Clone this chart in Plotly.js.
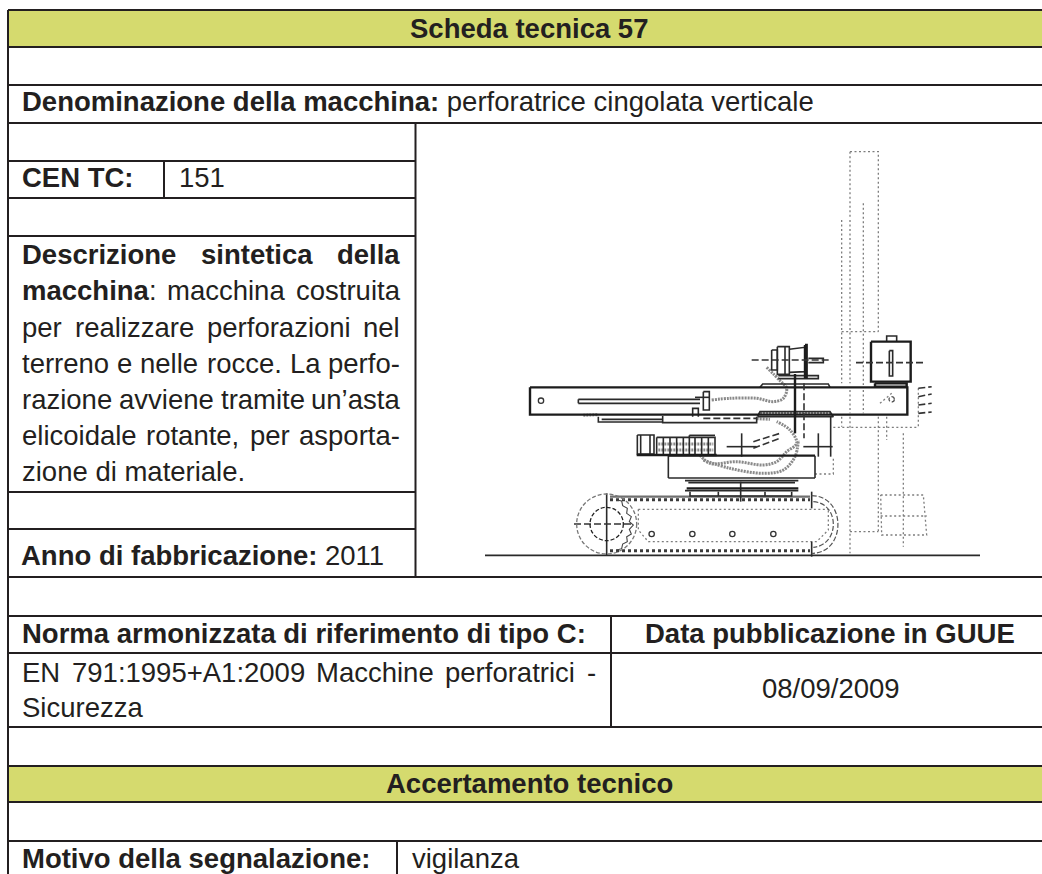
<!DOCTYPE html>
<html><head><meta charset="utf-8">
<script src="https://cdn.plot.ly/plotly-3.0.1.min.js"></script>
<style>html,body{margin:0;padding:0;background:#fff}#c{width:1042px;height:874px}</style>
</head><body><div id="c"></div>
<script>
// ---------- table content ----------
const INK = '#231f20', BAND = '#d5da6e', FONT = '"Liberation Sans", Arial, sans-serif';
const SIZE = 27.5;
const fullRules = [10, 47, 85, 123, 577, 616, 653, 727, 766, 802, 841];
const leftRules = [161, 198, 236, 492, 529];
const bands = [[10, 47], [766, 802]];
const vRules = [[8, 10, 874], [415.5, 123, 577], [164, 161, 198], [611, 616, 727], [397, 841, 874]];
const plainTexts = [
  ['<b>Scheda tecnica 57</b>', 529, 28, 'center'],
  ['<b>Denominazione della macchina:</b> perforatrice cingolata verticale', 22, 101.5, 'left'],
  ['<b>CEN TC:</b>', 22, 177.5, 'left'],
  ['151', 179, 177.5, 'left'],
  ['zione di materiale.', 22, 471.5, 'left'],
  ['<b>Anno di fabbricazione:</b> 2011', 21, 555, 'left'],
  ['<b>Norma armonizzata di riferimento di tipo C:</b>', 22, 633, 'left'],
  ['<b>Data pubblicazione in GUUE</b>', 830, 633, 'center'],
  ['Sicurezza', 22, 707, 'left'],
  ['08/09/2009', 831, 688, 'center'],
  ['<b>Accertamento tecnico</b>', 529, 783, 'center'],
  ['<b>Motivo della segnalazione:</b>', 22, 858, 'left'],
  ['vigilanza', 412, 858, 'left']
];
const justifiedLines = [
  [['Descrizione', 'sintetica', 'della'], 3, 22, 400, 254],
  [['macchina', ':', 'macchina', 'costruita'], 1, 22, 400, 290.5],
  [['per', 'realizzare', 'perforazioni', 'nel'], 0, 22, 400, 327],
  [['terreno', 'e', 'nelle', 'rocce.', 'La', 'perfo-'], 0, 22, 400, 363],
  [['razione', 'avviene', 'tramite', 'un\u2019asta'], 0, 22, 400, 399],
  [['elicoidale', 'rotante,', 'per', 'asporta-'], 0, 22, 400, 435],
  [['EN', '791:1995+A1:2009', 'Macchine', 'perforatrici', '-'], 0, 22, 596, 672]
];

// ---------- drawing polylines (units: 1/3 px inside the picture area) ----------
const blackHeavy = [
  [[180,742],[1312,742],[1312,824],[180,824],[180,742]],
  [[1215,730],[1310,730],[1310,740],[1215,740],[1215,730]],
  [[595,947],[1035,947]],
  [[500,945],[740,945]],
  [[650,1045],[985,1045]],
  [[1203,605],[1322,605],[1322,725],[1203,725],[1203,605]],
  [[1005,615],[1010,615],[1010,712],[1005,712],[1005,615]],
  [[975,702],[975,880]]
];
const blackMed = [
  [[45,1246],[1530,1246]],
  [[595,1014],[1035,1014]],
  [[410,1060],[410,1248]], [[1025,1055],[1025,1105]], [[1025,1205],[1025,1250]],
  [[870,742],[878,732],[1075,732],[1080,742]],
  [[862,830],[870,815],[1080,815],[1090,830],[862,830]],
  [[325,778],[690,778]], [[325,790],[690,790]], [[325,778],[325,790]],
  [[700,755],[718,755],[718,810],[700,810],[700,755]],
  [[675,772],[718,772]],
  [[668,830],[668,805],[685,805],[685,830]],
  [[385,830],[385,846],[578,846]], [[395,838],[578,838]], [[578,828],[578,848],[860,848],[860,830]],
  [[905,630],[922,630],[922,690],[905,690],[905,630]],
  [[922,620],[958,620],[958,703],[922,703],[922,620]], [[945,620],[945,703]],
  [[958,628],[1005,622],[1005,695],[958,697]],
  [[925,707],[1045,707],[1045,716],[925,716]],
  [[1015,655],[1060,655],[1060,668],[1015,668]],
  [[1250,605],[1250,588],[1280,588],[1280,605]],
  [[1258,632],[1268,632],[1268,708],[1258,708],[1258,632]],
  [[502,885],[552,885],[552,942],[502,942],[502,885]], [[512,885],[512,942]], [[540,885],[540,942]],
  [[560,892],[735,892],[735,942]], [[560,892],[560,942]], [[658,886],[735,886]],
  [[580,892],[580,942]], [[600,892],[600,942]], [[620,892],[620,942]], [[640,892],[640,942]],
  [[658,886],[658,942]], [[675,892],[675,942]], [[695,892],[695,942]], [[715,892],[715,942]],
  [[595,947],[595,1014]], [[1035,947],[1035,1014]],
  [[645,1022],[985,1022]], [[655,1028],[975,1028]], [[645,1052],[985,1052]],
  [[660,1055],[660,1068],[965,1068],[965,1055]], [[745,1055],[745,1068]], [[885,1055],[885,1068]],
  [[812,1025],[812,1085]],
  [[815,880],[815,950]], [[770,920],[860,920]], [[1045,880],[1045,950]], [[1000,920],[1088,920]],
  [[1082,830],[1082,950]]
];
const blackDashed = [
  [[845,660],[1080,660]], [[1002,730],[1002,895]], [[312,1152],[490,1152]],
  [[700,835],[860,835]], [[850,925],[930,895]], [[850,905],[930,880]],
  [[1158,668],[1368,668]], [[1345,745],[1385,740]], [[1345,770],[1385,762]],
  [[1345,795],[1385,790]], [[1345,820],[1385,816]]
];
const grayDots = [
  [[1140,35],[1225,35],[1225,575]], [[1140,35],[1140,230]], [[1115,240],[1115,730]], [[1140,240],[1140,730]],
  [[1115,575],[1225,575]], [[1180,190],[1180,735]], [[1225,830],[1225,1175]],
  [[1140,830],[1140,1240]], [[1140,1175],[1225,1175]], [[1115,830],[1115,860]],
  [[1090,862],[1345,862]], [[1300,880],[1300,1220]], [[1250,830],[1250,900]], [[1345,745],[1345,860]],
  [[1232,1065],[1360,1065],[1370,1185],[1235,1185],[1232,1065]], [[1232,1128],[1370,1128]],
  [[1140,750],[1140,820]], [[1180,750],[1180,820]], [[1230,790],[1265,760]],
  [[505,1108],[1075,1108]], [[505,1108],[505,1170],[535,1205],[1040,1205],[1075,1170],[1075,1108]],
  [[1035,1002],[1090,1002],[1090,950]]
];
const hoses = [
  [[725,780],[780,775],[860,775],[910,785],[940,775],[950,745],[930,722],[890,682]],
  [[690,945],[720,970],[800,965],[880,975],[920,965],[950,935],[980,910],[960,870],[920,845]],
  [[700,960],[780,985],[880,1000],[940,990],[975,950],[985,900]],
  [[340,826],[385,824]],
  [[565,912],[730,912]], [[565,930],[730,930]], [[860,836],[900,838]], [[870,820],[1085,820]]
];
const trackTeeth = [[[420,1079],[1020,1079]], [[420,1232],[1020,1232]]];
const trackBelt = [[[420,1070],[1020,1070]]];
const sprocketTeeth = [[[440,1080],[455,1083],[458,1097],[472,1105],[470,1120],[484,1130],[478,1145],[490,1155],[478,1168],[484,1182],[470,1190],[472,1205],[458,1212],[455,1226],[440,1230]]];
const circles = [
  [410,1152,90,'dash','#777'], [410,1152,50,'dash','#222'],
  [545,1182,8,'solid','#333'], [667,1182,8,'solid','#333'], [787,1182,8,'solid','#333'], [910,1182,8,'solid','#333'],
  [213,782,8,'solid','#333'], [1265,778,8,'dot','#555']
];
const halfWheels = [[815,920,34], [1045,920,33]];
const trackEndPath = 'M 1025 1067 C 1130 1067, 1130 1240, 1025 1240';
const trackEndInner = 'M 1030 1085 C 1110 1090, 1110 1215, 1030 1222';

// ---------- measuring and building ----------
const ctx = document.createElement('canvas').getContext('2d');
function width(t, bold) { ctx.font = (bold ? 'bold ' : '') + SIZE + 'px "Liberation Sans"'; return ctx.measureText(t).width; }
const annotations = [];
function label(text, x, y, anchor) {
  annotations.push({text, x, y, xref:'x', yref:'y', xanchor:anchor, yanchor:'middle', showarrow:false,
    borderpad:0, borderwidth:0, font:{family:FONT, size:SIZE, color:INK}});
}
plainTexts.forEach(t => label(t[0], t[1], t[2], t[3]));
justifiedLines.forEach(([words, boldCount, x0, x1, y]) => {
  const attached = words.map(w => w === ':');
  const ws = words.map((w, i) => width(w, i < boldCount));
  const total = ws.reduce((a, b) => a + b, 0);
  const gaps = attached.filter(a => !a).length - 1;
  const gap = (x1 - x0 - total) / gaps;
  let x = x0;
  words.forEach((w, i) => {
    if (attached[i]) x -= gap;
    label(i < boldCount ? '<b>' + w + '</b>' : w, x, y, 'left');
    x += ws[i] + gap;
  });
});
function flatten(lines) {
  const x = [], y = [];
  lines.forEach(l => { l.forEach(p => { x.push(p[0]); y.push(p[1]); }); x.push(null); y.push(null); });
  return {x, y};
}
function draw(lines, color, w, dash, shape) {
  const f = flatten(lines);
  return {x:f.x, y:f.y, xaxis:'x2', yaxis:'y2', mode:'lines', hoverinfo:'skip', showlegend:false, cliponaxis:false,
    line:{color, width:w, dash:dash || 'solid', shape:shape || 'linear', smoothing:1}};
}
const ruleLines = [];
fullRules.forEach(y => ruleLines.push([[8, y], [1042, y]]));
leftRules.forEach(y => ruleLines.push([[8, y], [415.5, y]]));
vRules.forEach(v => ruleLines.push([[v[0], v[1]], [v[0], v[2]]]));
const rf = flatten(ruleLines);
const traces = [
  {x:rf.x, y:rf.y, mode:'lines', hoverinfo:'skip', showlegend:false, cliponaxis:false, line:{color:INK, width:2}},
  draw(grayDots, '#7d7d7d', 1.3, '2px,2.5px'),
  draw(trackBelt, '#707070', 2.4),
  draw(trackTeeth, '#3a3a3a', 3, '3px,3px'),
  draw(sprocketTeeth, '#444', 1.1),
  draw(hoses, '#8a8a8a', 3, '2px,1px', 'spline'),
  draw(blackMed, '#2a2a2a', 1.6),
  draw(blackHeavy, '#1c1c1c', 2.4),
  draw(blackDashed, '#333', 1.6, '7px,3px')
];
const shapes = bands.map(b => ({type:'rect', xref:'x', yref:'y', x0:8, x1:1042, y0:b[0], y1:b[1], fillcolor:BAND, line:{width:0}, layer:'below'}));
circles.forEach(c => shapes.push({type:'circle', xref:'x2', yref:'y2', x0:c[0]-c[2], x1:c[0]+c[2], y0:c[1]-c[2], y1:c[1]+c[2],
  line:{color:c[4], width:1.3, dash:c[3] === 'solid' ? 'solid' : '4px,2px'}}));
halfWheels.forEach(h => shapes.push({type:'path', xref:'x2', yref:'y2',
  path:`M ${h[0]-h[2]} ${h[1]} A ${h[2]} ${h[2]} 0 0 1 ${h[0]+h[2]} ${h[1]}`, line:{color:'#333', width:1.2}}));
[trackEndPath, trackEndInner].forEach(p => shapes.push({type:'path', xref:'x2', yref:'y2', path:p, line:{color:'#555', width:1.2, dash:'5px,2px'}}));
const hidden = {visible:false, fixedrange:true};
Plotly.newPlot('c', traces, {
  width:1042, height:874, margin:{l:0, r:0, t:0, b:0}, paper_bgcolor:'#fff', plot_bgcolor:'rgba(0,0,0,0)',
  showlegend:false,
  xaxis:{...hidden, range:[0,1042], domain:[0,1]},
  yaxis:{...hidden, range:[874,0], domain:[0,1]},
  xaxis2:{...hidden, range:[0,1560], domain:[470/1042, 990/1042], anchor:'y2'},
  yaxis2:{...hidden, range:[1320,0], domain:[1-580/874, 1-140/874], anchor:'x2'},
  shapes, annotations
}, {staticPlot:true, displayModeBar:false});
</script></body></html>
